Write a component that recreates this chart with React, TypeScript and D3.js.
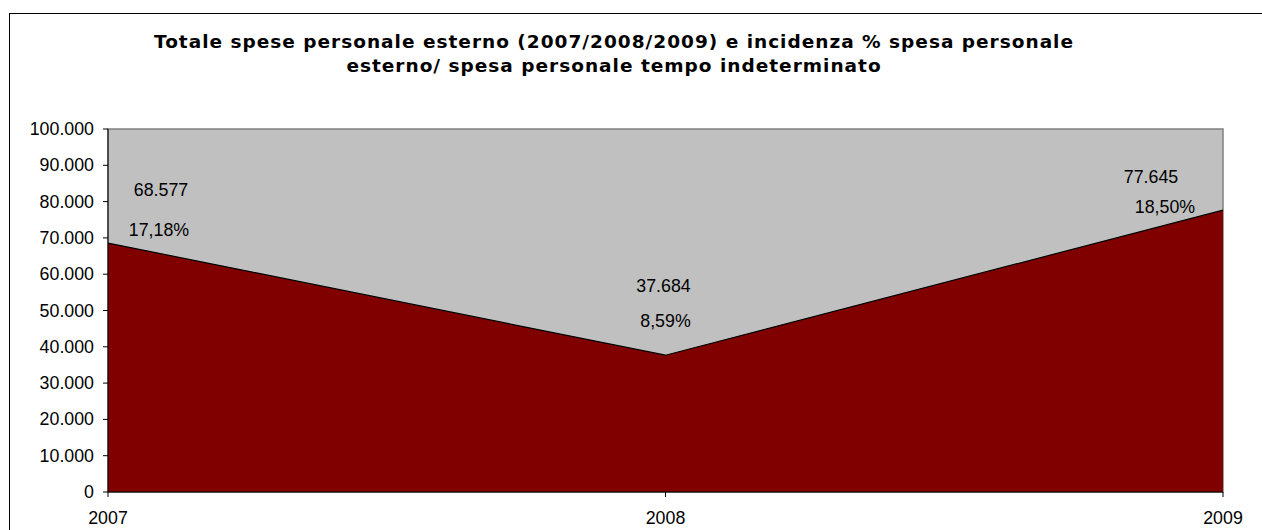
import React from "react";
import * as d3 from "d3";

const years = ["2007", "2008", "2009"];
const totals = [68577, 37684, 77645];
const totalLabels = ["68.577", "37.684", "77.645"];
const pctLabels = ["17,18%", "8,59%", "18,50%"];
const yTicks = [0, 10000, 20000, 30000, 40000, 50000, 60000, 70000, 80000, 90000, 100000];
const titleLines = [
  "Totale spese personale esterno (2007/2008/2009) e incidenza % spesa personale",
  "esterno/ spesa personale tempo indeterminato",
];

// label placement offsets relative to each point (layout only)
const valueOffsets: [number, number][] = [[53, -47], [-2, -63], [-72, -27]];
const pctOffsets: [number, number][] = [[51, -7], [0, -28], [-58, 3]];

const W = 1262, H = 530;
const left = 108, right = 1223, top = 129, bottom = 492;

export default function App() {
  const x = d3.scalePoint<string>().domain(years).range([left, right]);
  const y = d3.scaleLinear().domain([0, 100000]).range([bottom, top]);
  const fmt = (v: number) => (v === 0 ? "0" : d3.format(",")(v).replace(/,/g, "."));

  const area = d3.area<number>()
    .x((_, i) => x(years[i])!)
    .y0(y(0))
    .y1((d) => y(d));
  const line = d3.line<number>()
    .x((_, i) => x(years[i])!)
    .y((d) => y(d));

  const font = "'Liberation Sans', Arial, sans-serif";
  const fs = 17.8;
  return (
    <div style={{ position: "fixed", left: 0, top: 0 }}>
      <svg width={W} height={H} style={{ display: "block", background: "#fff" }}>
        <rect x={9.5} y={13.5} width={1400} height={700} fill="#fff" stroke="#000" strokeWidth={1} />
        {titleLines.map((t, i) => (
          <text key={i} x={614} y={48 + i * 24} textAnchor="middle"
            fontFamily="'DejaVu Sans', Verdana, sans-serif" fontWeight="bold" fontSize={18.5}
            letterSpacing={1.0} fill="#000">{t}</text>
        ))}
        <rect x={left} y={top} width={right - left} height={bottom - top} fill="#C0C0C0" stroke="#808080" strokeWidth={1.5} />
        <path d={area(totals)!} fill="#800000" />
        <path d={line(totals)!} fill="none" stroke="#000" strokeWidth={1.2} />
        {/* y axis */}
        <line x1={left} x2={left} y1={top} y2={bottom} stroke="#000" />
        {yTicks.map((t) => (
          <g key={t}>
            <line x1={left - 5} x2={left} y1={y(t)} y2={y(t)} stroke="#000" />
            <text x={94} y={y(t) + 6} textAnchor="end" fontFamily={font} fontSize={fs} fill="#000">{fmt(t)}</text>
          </g>
        ))}
        {/* x axis */}
        <line x1={left} x2={right} y1={bottom} y2={bottom} stroke="#000" />
        {years.map((yr) => (
          <g key={yr}>
            <line x1={x(yr)} x2={x(yr)} y1={bottom} y2={bottom + 5} stroke="#000" />
            <text x={x(yr)} y={bottom + 32} textAnchor="middle" fontFamily={font} fontSize={fs} fill="#000">{yr}</text>
          </g>
        ))}
        {/* data labels */}
        {totals.map((v, i) => {
          const px = x(years[i])!, py = y(v);
          return (
            <g key={i}>
              <text x={px + valueOffsets[i][0]} y={py + valueOffsets[i][1]} textAnchor="middle"
                fontFamily={font} fontSize={fs} fill="#000">{totalLabels[i]}</text>
              <text x={px + pctOffsets[i][0]} y={py + pctOffsets[i][1]} textAnchor="middle"
                fontFamily={font} fontSize={fs} fill="#000">{pctLabels[i]}</text>
            </g>
          );
        })}
      </svg>
    </div>
  );
}
